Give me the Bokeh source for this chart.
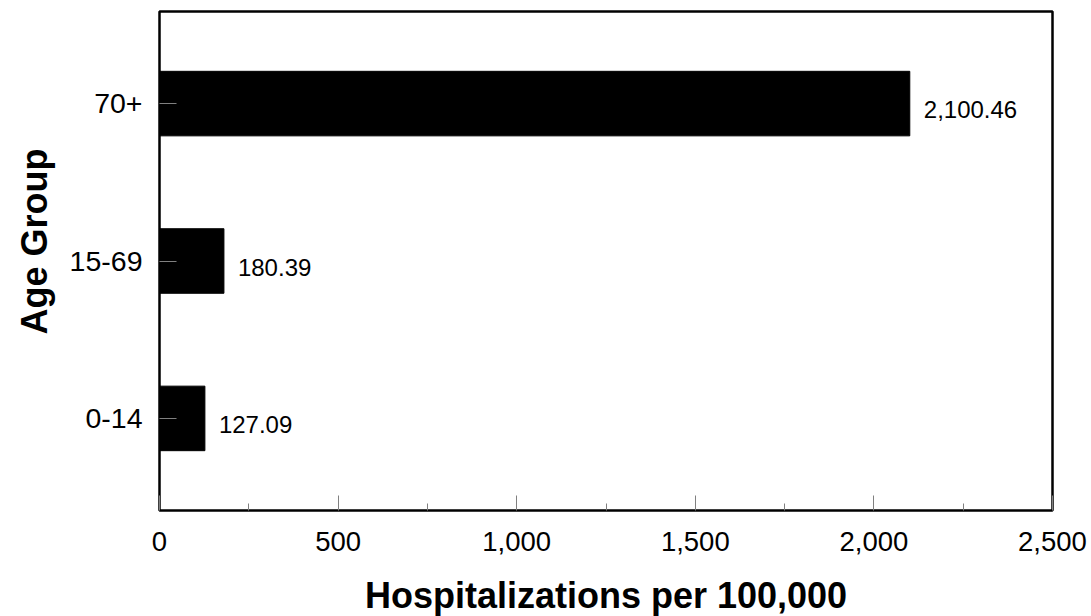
from bokeh.plotting import figure
from bokeh.models import ColumnDataSource, FixedTicker, NumeralTickFormatter, LabelSet, Title
from bokeh.core.properties import value
from bokeh.embed import file_html
from bokeh.resources import INLINE

categories = ["0-14", "15-69", "70+"]
values = [127.09, 180.39, 2100.46]
x_ticks = [0, 500, 1000, 1500, 2000, 2500]
x_minor = [250, 750, 1250, 1750, 2250]

pos = list(range(len(categories)))
labels = ["{:,.2f}".format(v) for v in values]
src = ColumnDataSource(dict(y=pos, v=values, lab=labels))

FONT = "Liberation Sans"

p = figure(width=1091, height=616, output_backend="svg", toolbar_location=None,
           x_range=(0, 2500), y_range=(-0.585, 2.585),
           frame_width=893, frame_height=499,
           min_border_left=159, min_border_right=39, min_border_top=11, min_border_bottom=106)
p.hbar(y="y", right="v", left=0, height=0.41, source=src, color="black")

p.add_layout(LabelSet(x="v", y="y", text="lab", source=src, x_offset=14, y_offset=-6,
                      text_baseline="middle", text_align="left",
                      text_font=value(FONT), text_font_size=value("24px"), text_color="black"))

p.grid.visible = False
p.outline_line_color = "black"
p.outline_line_width = 2.5

xa = p.xaxis[0]
xa.ticker = FixedTicker(ticks=x_ticks, minor_ticks=x_minor)
xa.formatter = NumeralTickFormatter(format="0,0")
xa.axis_label = "Hospitalizations per 100,000"

ya = p.yaxis[0]
ya.ticker = FixedTicker(ticks=pos)
ya.major_label_overrides = {i: c for i, c in enumerate(categories)}

for ax in (xa, ya):
    ax.axis_line_color = None
    ax.major_tick_out = 0
    ax.minor_tick_out = 0
    ax.major_tick_line_color = "#808080"
    ax.minor_tick_line_color = "#808080"
    ax.major_label_text_font = FONT
    ax.major_label_text_color = "black"
    ax.axis_label_text_font = FONT
    ax.axis_label_text_font_style = "bold"
    ax.axis_label_text_font_size = "36px"
    ax.axis_label_text_color = "black"

xa.major_label_text_font_size = "27.5px"
xa.major_tick_in = 15
xa.minor_tick_in = 7
xa.major_label_standoff = 21
xa.axis_label_standoff = 21

ya.major_label_text_font_size = "28.5px"
ya.major_tick_in = 17
ya.minor_tick_line_color = None
ya.major_label_standoff = 17

ytitle = Title(text="Age Group", align="right", offset=137, standoff=23,
               text_font=FONT, text_font_style="bold", text_font_size="36px",
               text_line_height=1.0, text_color="black")
p.add_layout(ytitle, "left")

open("out.html", "w").write(file_html(p, INLINE))
